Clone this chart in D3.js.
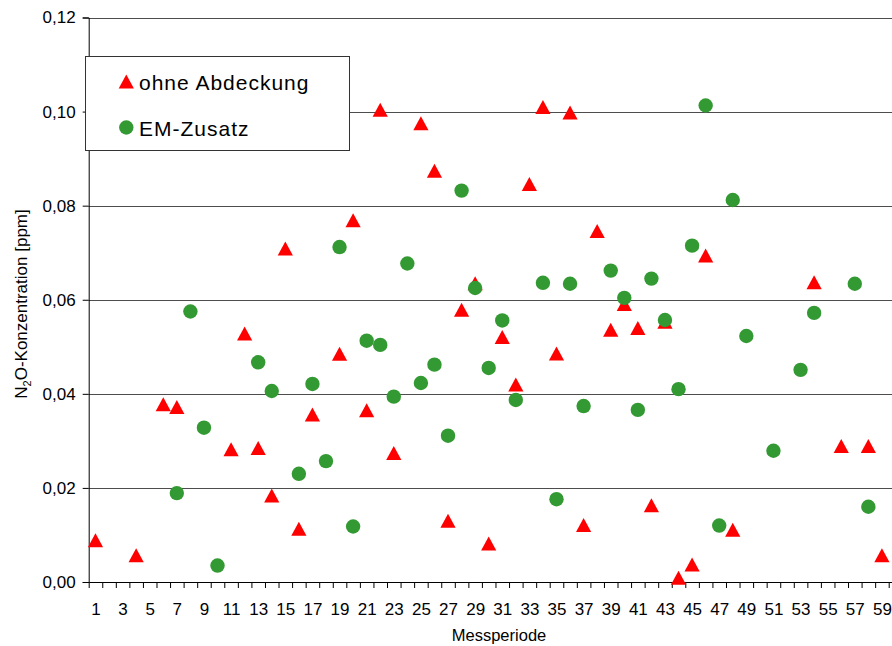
<!DOCTYPE html>
<html>
<head>
<meta charset="utf-8">
<script src="https://cdn.jsdelivr.net/npm/d3@7"></script>
<style>
  body { margin: 0; background: #fff; }
  text { font-family: "Liberation Sans", Arial, sans-serif; fill: #000; }
</style>
</head>
<body>
<div id="chart"></div>
<script>
// Messperiode 1..59
const periods = d3.range(1, 60);

// ohne Abdeckung (triangles): [period, value]
const ohneAbdeckung = [
  [1, 0.0089], [4, 0.0057], [6, 0.0378], [7, 0.0372], [11, 0.0282], [12, 0.0528],
  [13, 0.0285], [14, 0.0184], [15, 0.0709], [16, 0.0113], [17, 0.0356], [19, 0.0485],
  [20, 0.0769], [21, 0.0365], [22, 0.1004], [23, 0.0274], [25, 0.0975], [26, 0.0874],
  [27, 0.0130], [28, 0.0579], [29, 0.0635], [30, 0.0082], [31, 0.0521], [32, 0.0420],
  [33, 0.0846], [34, 0.1010], [35, 0.0486], [36, 0.0998], [37, 0.0121], [38, 0.0746],
  [39, 0.0536], [40, 0.0591], [41, 0.0540], [42, 0.0163], [43, 0.0553], [44, 0.0009],
  [45, 0.0037], [46, 0.0694], [48, 0.0111], [54, 0.0637], [56, 0.0289], [58, 0.0289],
  [59, 0.0057]
];

// EM-Zusatz (circles): [period, value]
const emZusatz = [
  [7, 0.0189], [8, 0.0575], [9, 0.0328], [10, 0.0035], [13, 0.0467], [14, 0.0406],
  [16, 0.0230], [17, 0.0421], [18, 0.0257], [19, 0.0712], [20, 0.0118], [21, 0.0513],
  [22, 0.0504], [23, 0.0394], [24, 0.0677], [25, 0.0423], [26, 0.0462], [27, 0.0311],
  [28, 0.0832], [29, 0.0625], [30, 0.0455], [31, 0.0556], [32, 0.0387], [34, 0.0636],
  [35, 0.0176], [36, 0.0634], [37, 0.0374], [39, 0.0662], [40, 0.0604], [41, 0.0366],
  [42, 0.0645], [43, 0.0557], [44, 0.0410], [45, 0.0715], [46, 0.1013], [47, 0.0120],
  [48, 0.0812], [49, 0.0523], [51, 0.0279], [53, 0.0451], [54, 0.0572], [57, 0.0634],
  [58, 0.0160]
];

const yTicks = [0, 0.02, 0.04, 0.06, 0.08, 0.10, 0.12];
const xLabelTicks = periods.filter(p => p % 2 === 1);
const seriesNames = ["ohne Abdeckung", "EM-Zusatz"];

const width = 892, height = 646;
const plotLeft = 88.7, plotRight = 888.7, plotTop = 17.5, plotBottom = 582;
const red = "#ff0000", green = "#339933";

const svg = d3.select("#chart").append("svg")
  .attr("width", width)
  .attr("height", height);

const x = d3.scaleLinear().domain([0.5, periods.length + 0.5]).range([plotLeft, plotRight]);
const y = d3.scaleLinear().domain([0, 0.12]).range([plotBottom, plotTop]);

const fmt = d => d3.format(".2f")(d).replace(".", ",");

// gridlines (plot area runs off the right edge of the picture)
svg.append("g")
  .selectAll("line")
  .data(yTicks.filter(d => d > 0))
  .join("line")
  .attr("x1", plotLeft).attr("x2", width)
  .attr("y1", d => Math.round(y(d)) + 0.5).attr("y2", d => Math.round(y(d)) + 0.5)
  .attr("stroke", "#4d4d4d")
  .attr("stroke-width", 1);

// y axis
const yAxis = svg.append("g")
  .attr("transform", `translate(${plotLeft},0)`)
  .call(d3.axisLeft(y).tickValues(yTicks).tickSize(6).tickPadding(7).tickFormat(fmt));
yAxis.selectAll("text").attr("font-size", 17).style("font-family", '"Liberation Sans", Arial, sans-serif');
yAxis.select(".domain").attr("stroke", "#000");

// x axis: ticks on period boundaries, labels on odd periods
const xAxis = svg.append("g")
  .attr("transform", `translate(0,${plotBottom})`)
  .call(d3.axisBottom(x).tickValues(d3.range(0.5, periods.length + 1, 1)).tickSize(6).tickSizeOuter(0).tickFormat(""));
xAxis.select(".domain").attr("stroke", "#000");
xAxis.append("line")
  .attr("x1", plotRight).attr("x2", width)
  .attr("y1", 0.5).attr("y2", 0.5)
  .attr("stroke", "#000");

svg.append("g")
  .attr("transform", `translate(0,${plotBottom})`)
  .call(d3.axisBottom(x).tickValues(xLabelTicks).tickSize(0).tickPadding(21).tickFormat(d3.format("d")))
  .call(g => g.select(".domain").remove())
  .selectAll("text")
  .attr("font-size", 17)
  .style("font-family", '"Liberation Sans", Arial, sans-serif');

// axis titles
svg.append("text")
  .attr("x", 499).attr("y", 641)
  .attr("text-anchor", "middle")
  .attr("font-size", 16.5)
  .text("Messperiode");

const yTitle = svg.append("text")
  .attr("transform", "translate(27,304) rotate(-90)")
  .attr("text-anchor", "middle")
  .attr("font-size", 17);
yTitle.append("tspan").text("N");
yTitle.append("tspan").attr("font-size", 11).attr("dy", 4).text("2");
yTitle.append("tspan").attr("dy", -4).text("O-Konzentration [ppm]");

// markers
const triPath = "M0,-7L7.6,7L-7.6,7Z";

svg.append("g")
  .selectAll("path")
  .data(ohneAbdeckung)
  .join("path")
  .attr("d", triPath)
  .attr("transform", d => `translate(${x(d[0])},${y(d[1])})`)
  .attr("fill", red);

svg.append("g")
  .selectAll("circle")
  .data(emZusatz)
  .join("circle")
  .attr("cx", d => x(d[0]))
  .attr("cy", d => y(d[1]))
  .attr("r", 7.2)
  .attr("fill", green);

// legend
const legend = svg.append("g");
legend.append("rect")
  .attr("x", 85.5).attr("y", 56.5)
  .attr("width", 264).attr("height", 94)
  .attr("fill", "#fff")
  .attr("stroke", "#333")
  .attr("stroke-width", 1);

const legendItems = legend.selectAll("g.item")
  .data(seriesNames)
  .join("g")
  .attr("class", "item")
  .attr("transform", (d, i) => `translate(126.3,${81.5 + i * 46})`);

legendItems.filter((d, i) => i === 0).append("path")
  .attr("d", triPath)
  .attr("fill", red);
legendItems.filter((d, i) => i === 1).append("circle")
  .attr("r", 7.2)
  .attr("fill", green);

legendItems.append("text")
  .attr("x", 12.7)
  .attr("y", 8)
  .attr("font-size", 21)
  .attr("letter-spacing", 1)
  .text(d => d);
</script>
</body>
</html>
